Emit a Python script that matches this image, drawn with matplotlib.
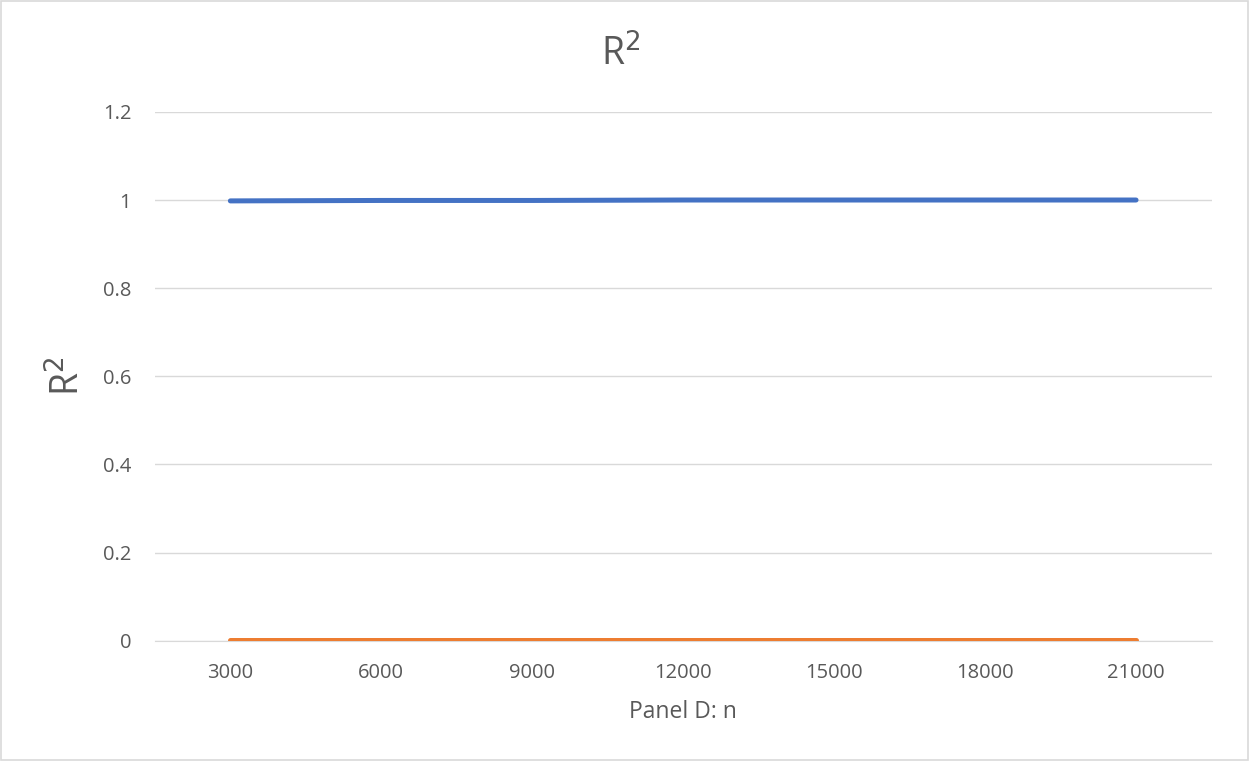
import matplotlib.pyplot as plt

plt.rcParams["font.family"] = ["Open Sans", "DejaVu Sans"]

n_values = ["3000", "6000", "9000", "12000", "15000", "18000", "21000"]
r2_model_a = [0.998, 0.999, 0.999, 1.0, 1.0, 1.0, 1.0]
r2_model_b = [0.001, 0.001, 0.001, 0.001, 0.001, 0.001, 0.001]
y_ticks = [0, 0.2, 0.4, 0.6, 0.8, 1, 1.2]

text_color = "#595959"
grid_color = "#d9d9d9"

fig = plt.figure(figsize=(12.49, 7.61), dpi=100)
ax = fig.add_axes([0.124, 0.158, 0.846, 0.695])

x = range(len(n_values))
ax.plot(x, r2_model_a, color="#4472C4", linewidth=3.6, solid_capstyle="round", zorder=3)
ax.plot(x, r2_model_b, color="#ED7D31", linewidth=3.6, solid_capstyle="round", zorder=3)

ax.set_xlim(-0.5, len(n_values) - 0.5)
ax.set_ylim(0, 1.2)
ax.set_xticks(list(x))
ax.set_xticklabels(n_values)
ax.set_yticks(y_ticks)
ax.set_yticklabels([f"{t:g}" for t in y_ticks])
ax.grid(axis="y", color=grid_color, linewidth=1)
ax.set_axisbelow(True)

for side in ["top", "right", "left"]:
    ax.spines[side].set_visible(False)
ax.spines["bottom"].set_color(grid_color)
ax.tick_params(length=0, labelsize=14.5, colors=text_color)
ax.tick_params(axis="x", pad=16)
ax.tick_params(axis="y", pad=17)

# chart title sits centred on the whole figure
fig.text(0.497, 0.902, "R$^2$", fontsize=27, color=text_color, ha="center", va="bottom")
ax.set_ylabel("R$^2$", fontsize=27, color=text_color, labelpad=10)
ax.set_xlabel("Panel D: n", fontsize=16.5, color=text_color, labelpad=12)

# thin frame around the whole chart
fig.patches.append(plt.Rectangle((0.001, 0.001), 0.998, 0.998, transform=fig.transFigure,
                                 fill=False, edgecolor="#d9d9d9", linewidth=1.2))

fig.savefig("out.png", dpi=100, facecolor="white")
